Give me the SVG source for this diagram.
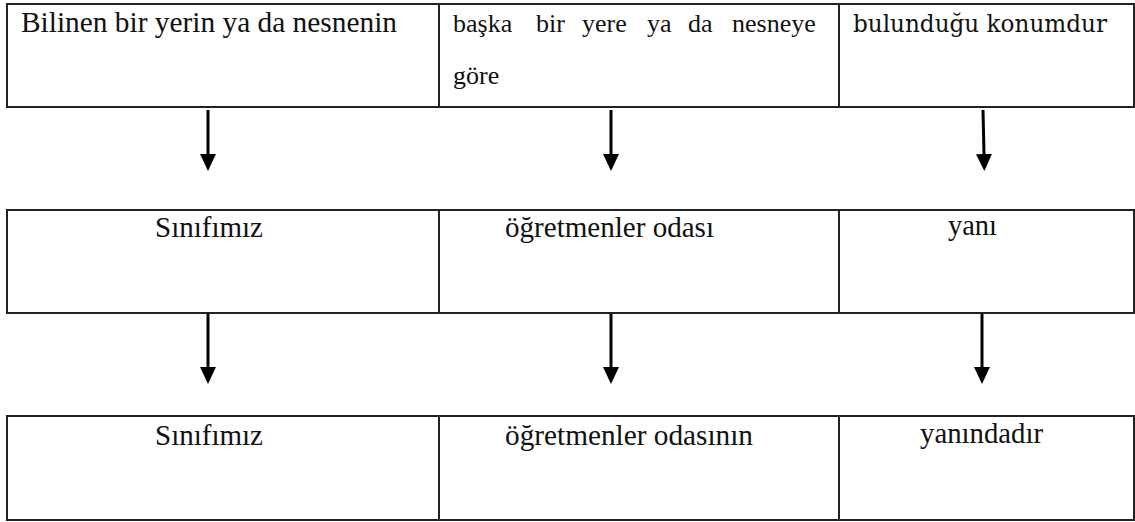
<svg xmlns="http://www.w3.org/2000/svg" width="1135" height="522" viewBox="0 0 1135 522">
<style>
.cell{fill:#fff;stroke:#222;stroke-width:2}
.t{font-family:"Liberation Serif","Times New Roman",serif;font-size:30px;fill:#111}
.s{font-family:"Liberation Serif","Times New Roman",serif;font-size:26px;fill:#111}
.d{font-family:"DejaVu Serif","Liberation Serif",serif;font-size:24px;fill:#111}
.arr{stroke:#000;stroke-width:3;fill:none}
</style>
<defs>
<marker id="ah" markerUnits="userSpaceOnUse" markerWidth="17" markerHeight="16" viewBox="0 -8 17 16" refX="0" refY="0" orient="auto">
<path d="M0,-8 L17,0 L0,8 z" fill="#000"/>
</marker>
</defs>
<rect width="1135" height="522" fill="#fff"/>
<g id="n1a"><rect class="cell" x="7" y="4" width="432" height="103"/><text class="t" x="21" y="32" textLength="376" lengthAdjust="spacingAndGlyphs">Bilinen bir yerin ya da nesnenin</text></g>
<g id="n1b"><rect class="cell" x="439" y="4" width="400" height="103"/><text class="s" y="32"><tspan x="453">başka</tspan><tspan x="536">bir</tspan><tspan x="582">yere</tspan><tspan x="647">ya</tspan><tspan x="688">da</tspan><tspan x="732">nesneye</tspan></text><text class="s" x="453" y="84">göre</text></g>
<g id="n1c"><rect class="cell" x="839" y="4" width="295" height="103"/><text class="d" x="853" y="32" textLength="254" lengthAdjust="spacingAndGlyphs">bulunduğu konumdur</text></g>
<g id="n2a"><rect class="cell" x="7" y="210" width="432" height="103"/><text class="t" x="155" y="237" textLength="108" lengthAdjust="spacingAndGlyphs">Sınıfımız</text></g>
<g id="n2b"><rect class="cell" x="439" y="210" width="400" height="103"/><text class="t" x="505" y="237" textLength="209" lengthAdjust="spacingAndGlyphs">öğretmenler odası</text></g>
<g id="n2c"><rect class="cell" x="839" y="210" width="295" height="103"/><text class="t" x="948" y="235" textLength="49" lengthAdjust="spacingAndGlyphs">yanı</text></g>
<g id="n3a"><rect class="cell" x="7" y="416" width="432" height="104"/><text class="t" x="155" y="445" textLength="108" lengthAdjust="spacingAndGlyphs">Sınıfımız</text></g>
<g id="n3b"><rect class="cell" x="439" y="416" width="400" height="104"/><text class="t" x="505" y="445" textLength="248" lengthAdjust="spacingAndGlyphs">öğretmenler odasının</text></g>
<g id="n3c"><rect class="cell" x="839" y="416" width="295" height="104"/><text class="t" x="920" y="443" textLength="123" lengthAdjust="spacingAndGlyphs">yanındadır</text></g>
<g id="connectors">
<line class="arr" x1="208" y1="110" x2="208" y2="154" marker-end="url(#ah)"/>
<line class="arr" x1="611" y1="110" x2="611" y2="154" marker-end="url(#ah)"/>
<line class="arr" x1="983" y1="110" x2="984" y2="154" marker-end="url(#ah)"/>
<line class="arr" x1="208" y1="314" x2="208" y2="367" marker-end="url(#ah)"/>
<line class="arr" x1="611" y1="314" x2="611" y2="367" marker-end="url(#ah)"/>
<line class="arr" x1="982" y1="314" x2="982" y2="367" marker-end="url(#ah)"/>
</g>
</svg>
